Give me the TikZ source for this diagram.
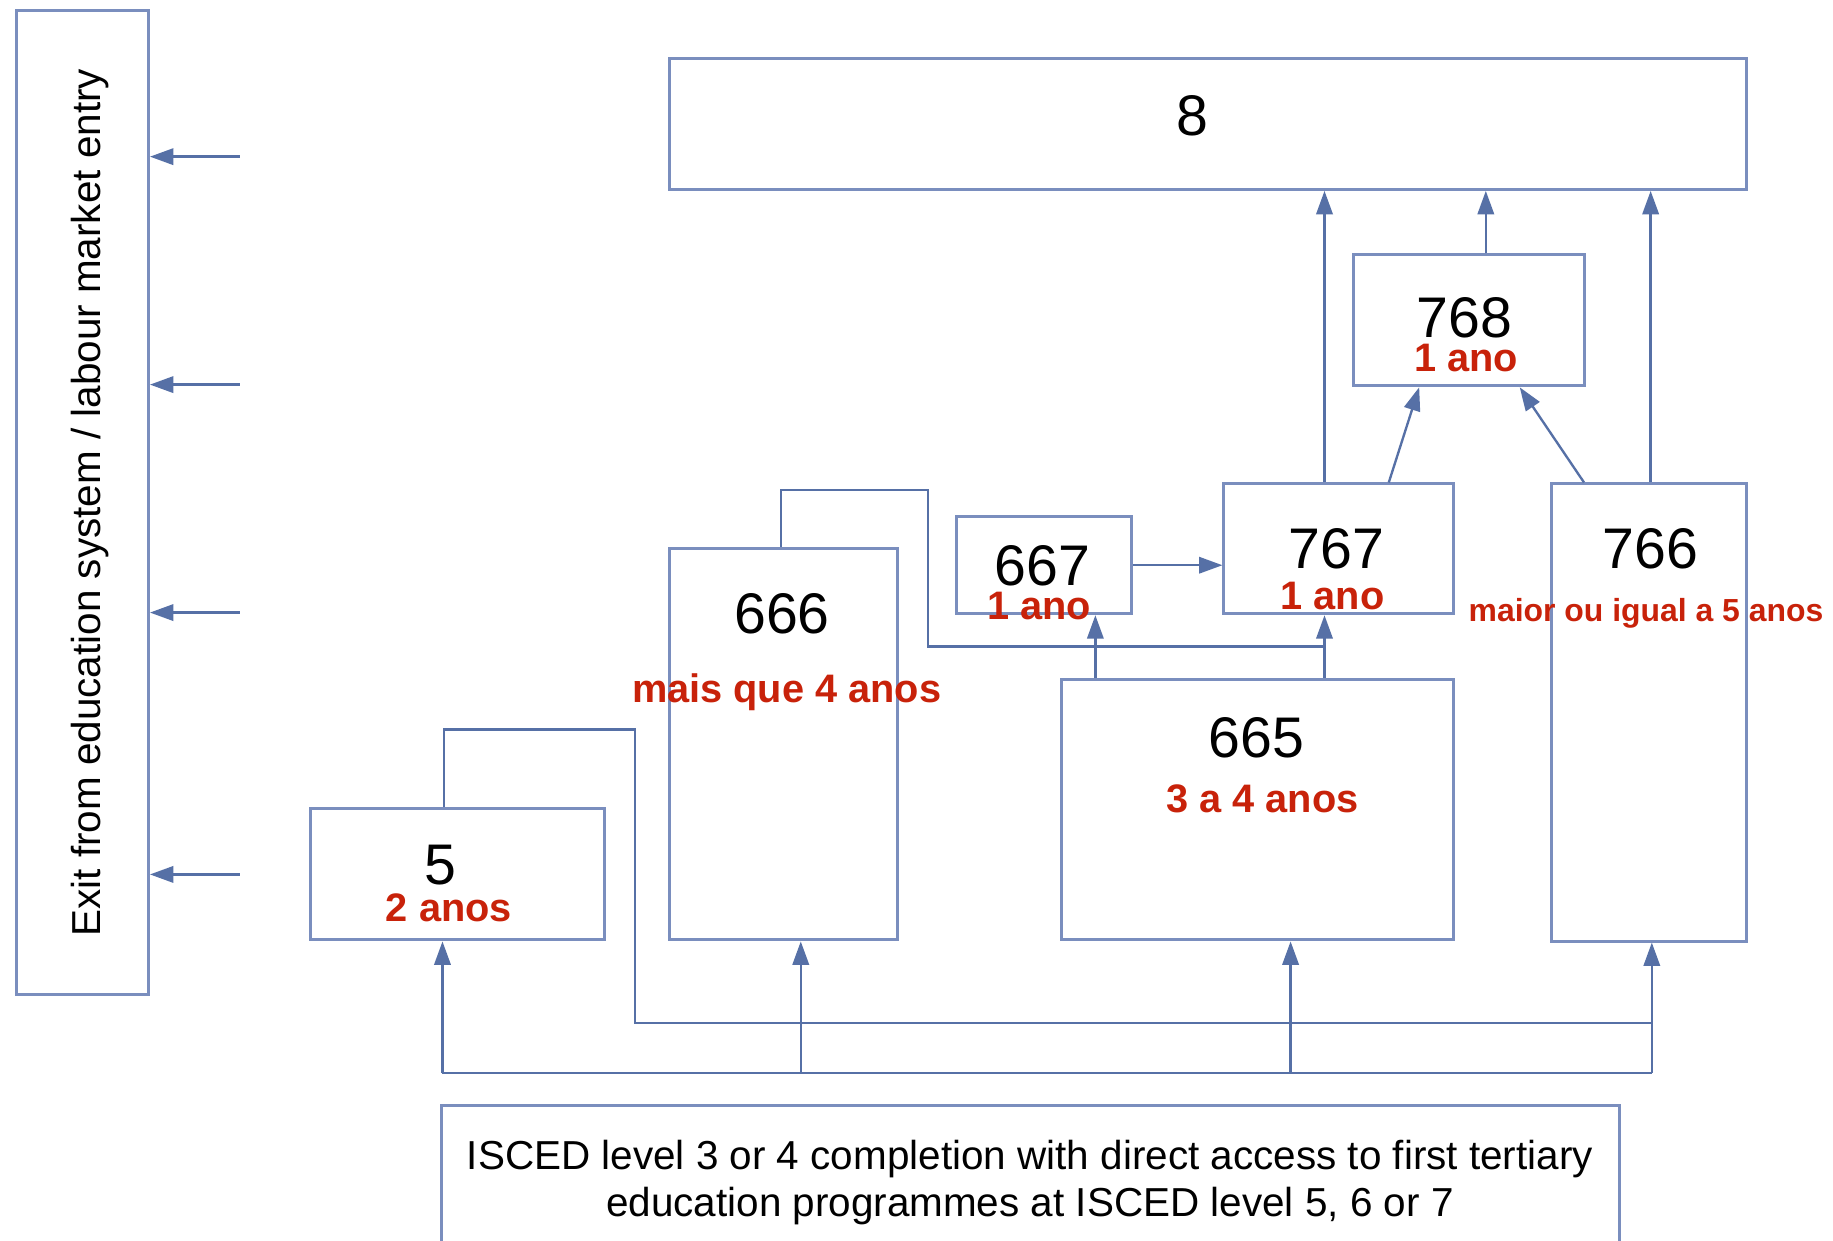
\documentclass[tikz,border=0pt]{standalone}
\usepackage{fontspec}
\setmainfont{Liberation Sans}
\usetikzlibrary{arrows.meta}
\definecolor{boxblue}{RGB}{122,142,190}
\definecolor{lineblue}{RGB}{86,112,166}
\definecolor{redlab}{RGB}{200,34,10}
\begin{document}
\begin{tikzpicture}[x=1pt,y=-1pt,
  box/.style={draw=boxblue,line width=2.6pt,fill=white,inner sep=0pt},
  conn/.style={draw=lineblue,line width=2pt},
  arr/.style={conn,-{Triangle[length=20pt,width=14pt]}},
  num/.style={anchor=base,inner sep=0pt,font=\fontsize{49}{55}\selectfont},
  dur/.style={anchor=base,inner sep=0pt,text=redlab,font=\bfseries\fontsize{34}{40}\selectfont},
  plain/.style={anchor=base,inner sep=0pt,font=\fontsize{34.6}{40}\selectfont},
]
\useasboundingbox (0,0) rectangle (1568,1061);
\fill[white] (0,0) rectangle (1568,1061);

% boxes
\node[box,minimum width=113pt,minimum height=842pt] (nexit) at (70.5,430) {};
\node[box,minimum width=921pt,minimum height=112pt] (n8) at (1033.5,106) {};
\node[box,minimum width=197pt,minimum height=112pt] (n768) at (1256.5,274) {};
\node[box,minimum width=196pt,minimum height=111pt] (n767) at (1145,469.5) {};
\node[box,minimum width=150pt,minimum height=83pt] (n667) at (893,483.5) {};
\node[box,minimum width=195pt,minimum height=335pt] (n666) at (670.5,636.5) {};
\node[box,minimum width=335pt,minimum height=223pt] (n665) at (1075.5,692.5) {};
\node[box,minimum width=167pt,minimum height=391pt] (n766) at (1410.5,609.5) {};
\node[box,minimum width=251pt,minimum height=112pt] (n5) at (391.5,748) {};
\node[box,minimum width=1007pt,minimum height=144pt] (nisced) at (881.5,1018) {};

% texts
\node[plain,rotate=90] (texit) at (86,430) {Exit from education system / labour market entry};
\node[num] (t8) at (1020,116) {8};
\node[num] (t768) at (1253,289) {768};
\node[dur] (d768) at (1254,318) {1 ano};
\node[num] (t767) at (1143,486) {767};
\node[dur] (d767) at (1140,521) {1 ano};
\node[num] (t667) at (892,501) {667};
\node[dur] (d667) at (889,530) {1 ano};
\node[num] (t666) at (669,542) {666};
\node[dur] (d666) at (673,601) {mais que 4 anos};
\node[num] (t665) at (1075,648) {665};
\node[dur] (d665) at (1080,695) {3 a 4 anos};
\node[num] (t766) at (1412,486) {766};
\node[dur,font=\bfseries\fontsize{27.3}{32}\selectfont] (d766) at (1408,532) {maior ou igual a 5 anos};
\node[num] (t5) at (377,757) {5};
\node[dur] (d5) at (384,788) {2 anos};
\node[plain] (l1) at (881,1000) {ISCED level 3 or 4 completion with direct access to first tertiary};
\node[plain] (l2) at (881,1041) {education programmes at ISCED level 5, 6 or 7};

% exit arrows
\coordinate (e1) at (205,134);
\coordinate (e2) at (205,329);
\coordinate (e3) at (205,524);
\coordinate (e4) at (205,748);
\foreach \e in {e1,e2,e3,e4} \draw[arr] (\e) -- (\e -| nexit.east);

% upper connectors
\draw[arr] ([xshift=-12pt]n767.north) -- ([xshift=-12pt]n767.north |- n8.south);
\draw[arr] ([xshift=14.5pt]n768.north) -- ([xshift=14.5pt]n768.north |- n8.south);
\draw[arr] ([xshift=1.5pt]n766.north) -- ([xshift=1.5pt]n766.north |- n8.south);
\draw[arr] ([xshift=43pt]n767.north) -- ([xshift=-42.5pt]n768.south);
\draw[arr] ([xshift=-55.5pt]n766.north) -- ([xshift=43.5pt]n768.south);
\draw[arr] (n667.east) -- (n667.east -| n767.west);
\draw[arr] ([xshift=44pt]n667.south |- n665.north) -- ([xshift=44pt]n667.south);
\draw[arr] ([xshift=-12pt]n767.south |- n665.north) -- ([xshift=-12pt]n767.south);

% 666 path to 767
\coordinate (bendA) at (794,419);
\coordinate (joinA) at (1133,553);
\draw[conn] ([xshift=-2.5pt]n666.north) |- (bendA) |- (joinA);

% 5 path to 766
\coordinate (bendB) at (543,624);
\coordinate (joinB) at (1413,875);
\draw[conn] ([xshift=-11.5pt]n5.north) |- (bendB) |- (joinB);

% bottom bus
\coordinate (busL) at (378.5,918);
\coordinate (busR) at (1413,918);
\draw[conn] (busL) -- (busR);
\draw[arr] ([xshift=-13pt]n5.south |- busL) -- ([xshift=-13pt]n5.south);
\draw[arr] ([xshift=14.5pt]n666.south |- busL) -- ([xshift=14.5pt]n666.south);
\draw[arr] ([xshift=28.5pt]n665.south |- busL) -- ([xshift=28.5pt]n665.south);
\draw[arr] ([xshift=2.5pt]n766.south |- busL) -- ([xshift=2.5pt]n766.south);
\end{tikzpicture}
\end{document}
